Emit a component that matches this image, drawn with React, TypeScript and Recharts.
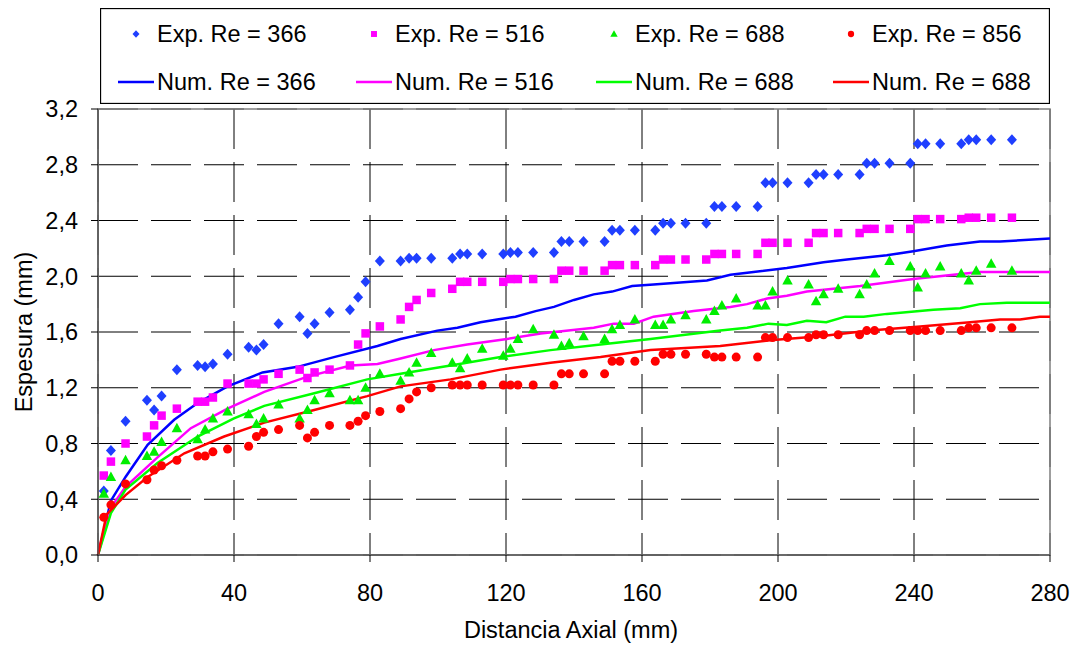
import React from 'react'
import { ComposedChart, Line, Scatter, XAxis, YAxis, CartesianGrid, ReferenceArea, Legend } from 'recharts'

// experimental stations (mm) - shared by the four Exp. series
const expX = [
    1.7, 3.8, 8.1, 14.4, 16.5, 18.7, 23.2, 29.3, 31.5, 33.8,
    38.1, 44.3, 46.6, 48.7, 53.1, 59.3, 61.6, 63.7, 68.1, 74.1,
    76.5, 78.7, 82.9, 89.0, 91.5, 93.7, 98.0, 104.2, 106.5, 108.6,
    113.0, 119.2, 121.3, 123.5, 128.0, 134.1, 136.3, 138.6, 142.8, 149.0,
    151.2, 153.5, 157.9, 163.9, 166.2, 168.5, 172.8, 178.9, 181.3, 183.5,
    187.7, 194.0, 196.3, 198.4, 202.8, 209.0, 211.2, 213.4, 217.7, 224.0,
    226.1, 228.4, 232.8, 238.9, 241.1, 243.4, 247.7, 253.9, 256.1, 258.3, 262.7, 268.8
]
const exp366 = [
    0.46, 0.75, 0.96, 1.11, 1.04, 1.14, 1.33, 1.36, 1.35, 1.37,
    1.44, 1.49, 1.47, 1.51, 1.66, 1.71, 1.59, 1.66, 1.74, 1.76,
    1.85, 1.96, 2.11, 2.11, 2.13, 2.13, 2.13, 2.13, 2.16, 2.16,
    2.16, 2.16, 2.17, 2.17, 2.17, 2.17, 2.25, 2.25, 2.25, 2.25,
    2.33, 2.33, 2.33, 2.33, 2.38, 2.38, 2.38, 2.38, 2.5, 2.5,
    2.5, 2.5, 2.67, 2.67, 2.67, 2.67, 2.73, 2.73, 2.73, 2.73,
    2.81, 2.81, 2.81, 2.81, 2.95, 2.95, 2.95, 2.95, 2.98, 2.98, 2.98, 2.98
]
const exp516 = [
    0.57, 0.67, 0.8, 0.85, 0.93, 1.0, 1.05, 1.1, 1.1, 1.13,
    1.23, 1.23, 1.23, 1.26, 1.3, 1.33, 1.27, 1.31, 1.33, 1.36,
    1.51, 1.59, 1.64, 1.69, 1.78, 1.83, 1.88, 1.91, 1.96, 1.96,
    1.96, 1.96, 1.98, 1.98, 1.98, 1.98, 2.04, 2.04, 2.04, 2.04,
    2.08, 2.08, 2.08, 2.08, 2.12, 2.12, 2.12, 2.12, 2.16, 2.16,
    2.16, 2.16, 2.24, 2.24, 2.24, 2.24, 2.31, 2.31, 2.31, 2.31,
    2.34, 2.34, 2.34, 2.34, 2.41, 2.41, 2.41, 2.41, 2.42, 2.42, 2.42, 2.42
]
const exp688 = [
    0.44, 0.56, 0.68, 0.71, 0.74, 0.81, 0.91, 0.83, 0.9, 0.98,
    1.03, 1.01, 0.94, 0.98, 1.08, 0.98, 1.04, 1.11, 1.16, 1.11,
    1.11, 1.2, 1.3, 1.25, 1.31, 1.38, 1.45, 1.38, 1.34, 1.41,
    1.48, 1.43, 1.48, 1.55, 1.62, 1.58, 1.5, 1.52, 1.57, 1.55,
    1.62, 1.65, 1.69, 1.65, 1.65, 1.69, 1.72, 1.69, 1.75, 1.79,
    1.84, 1.79, 1.79, 1.89, 1.97, 1.94, 1.82, 1.87, 1.91, 1.87,
    1.94, 2.02, 2.11, 2.07, 1.92, 2.02, 2.07, 2.02, 1.97, 2.04, 2.09, 2.04
]
const exp856 = [
    0.27, 0.36, 0.51, 0.54, 0.61, 0.64, 0.68, 0.71, 0.71, 0.74,
    0.76, 0.78, 0.85, 0.88, 0.9, 0.93, 0.84, 0.88, 0.93, 0.93,
    0.96, 1.0, 1.03, 1.05, 1.12, 1.17, 1.2, 1.22, 1.22, 1.22,
    1.22, 1.22, 1.22, 1.22, 1.22, 1.22, 1.3, 1.3, 1.3, 1.3,
    1.39, 1.39, 1.39, 1.39, 1.44, 1.44, 1.44, 1.44, 1.42, 1.42,
    1.42, 1.42, 1.56, 1.56, 1.56, 1.56, 1.58, 1.58, 1.58, 1.58,
    1.61, 1.61, 1.61, 1.61, 1.61, 1.61, 1.61, 1.61, 1.63, 1.63, 1.63, 1.63
]

// numerical curves
const num366X = [0, 3.8, 8.1, 14.6, 22.4, 29.3, 38.1, 48.4, 58.7, 69.4, 82.2, 89, 99.8, 105.7, 112.5, 117.4, 122.8, 128.7, 134.1, 140, 145.8, 151.2, 157.1, 163.4, 179.1, 186, 192.8, 202.6, 213.4, 220.3, 232, 239.8, 249.6, 259.4, 265.3, 280]
const num366 = [0, 0.39, 0.56, 0.79, 0.97, 1.09, 1.21, 1.31, 1.35, 1.42, 1.5, 1.55, 1.61, 1.63, 1.67, 1.69, 1.71, 1.75, 1.78, 1.83, 1.87, 1.89, 1.93, 1.94, 1.97, 2.01, 2.03, 2.06, 2.1, 2.12, 2.15, 2.18, 2.22, 2.25, 2.25, 2.27]
const num516X = [0, 3.8, 8.1, 17.5, 27.3, 38.1, 48.9, 61.6, 74.3, 82.2, 89, 98.8, 108.6, 120.3, 130.2, 145.8, 151.7, 157.6, 163.4, 175.2, 186, 190.9, 196.8, 202.6, 208.5, 224.2, 239.8, 251.6, 259.4, 280]
const num516 = [0, 0.34, 0.49, 0.7, 0.91, 1.05, 1.17, 1.28, 1.36, 1.37, 1.41, 1.47, 1.51, 1.55, 1.59, 1.63, 1.66, 1.66, 1.71, 1.75, 1.78, 1.8, 1.84, 1.86, 1.89, 1.93, 1.98, 2.01, 2.03, 2.03]
const num688X = [0, 3.8, 8.1, 17.5, 29.3, 40, 48.9, 63.6, 79.2, 89, 103.7, 118.4, 133.1, 147.8, 162.5, 183, 190.9, 197.2, 202.6, 208.5, 214.2, 219.8, 225.2, 232, 245.7, 253.6, 259.4, 267.3, 280]
const num688 = [0, 0.3, 0.47, 0.66, 0.85, 0.98, 1.07, 1.16, 1.26, 1.3, 1.36, 1.42, 1.47, 1.51, 1.55, 1.61, 1.63, 1.66, 1.65, 1.68, 1.67, 1.71, 1.71, 1.73, 1.76, 1.77, 1.8, 1.81, 1.81]
const num856X = [0, 2.5, 8.1, 14.6, 25.4, 37.1, 48.9, 63.6, 79.2, 89, 103.7, 118.4, 133.1, 147.8, 162.5, 183, 197.7, 212.4, 227.1, 241.8, 256.5, 265.3, 271.2, 277, 280]
const num856 = [0, 0.29, 0.43, 0.56, 0.73, 0.85, 0.95, 1.04, 1.14, 1.21, 1.26, 1.33, 1.38, 1.42, 1.47, 1.5, 1.54, 1.57, 1.61, 1.64, 1.67, 1.69, 1.69, 1.71, 1.71]

const xTicks = [0, 40, 80, 120, 160, 200, 240, 280]
const yTicks = [0, 0.4, 0.8, 1.2, 1.6, 2.0, 2.4, 2.8, 3.2]

const expLabels = ['Exp. Re = 366', 'Exp. Re = 516', 'Exp. Re = 688', 'Exp. Re = 856']
const numLabels = ['Num. Re = 366', 'Num. Re = 516', 'Num. Re = 688', 'Num. Re = 688']
const colors = ['#0000ff', '#ff00ff', '#00ff00', '#ff0000']
const markerColors = ['#1f3fff', '#ff00ff', '#00ee00', '#ff0000']
const markerKinds = ['diamond', 'square', 'triangle', 'circle']

const FONT = '"Liberation Sans", Arial, sans-serif'
const FS = 23.5

const toPoints = (xs: number[], ys: number[]) => xs.map((x, i) => ({ x, y: ys[i] }))

const Marker = ({ kind, cx, cy, fill, s }: { kind: string; cx: number; cy: number; fill: string; s: number }) => {
    if (kind === 'diamond')
        return <path d={`M${cx},${cy - s * 1.1} L${cx + s},${cy} L${cx},${cy + s * 1.1} L${cx - s},${cy} Z`} fill={fill} />
    if (kind === 'square') return <rect x={cx - s * 0.85} y={cy - s * 0.85} width={s * 1.7} height={s * 1.7} fill={fill} />
    if (kind === 'triangle')
        return <path d={`M${cx},${cy - s * 1.1} L${cx + s * 1.05},${cy + s * 0.8} L${cx - s * 1.05},${cy + s * 0.8} Z`} fill={fill} />
    return <circle cx={cx} cy={cy} r={s * 0.9} fill={fill} />
}

const shapeFor = (i: number) => (props: any) =>
    <Marker kind={markerKinds[i]} cx={props.cx} cy={props.cy} fill={markerColors[i]} s={5} />

const colText = [57, 295, 535, 772]

const renderLegend = () => (
    <svg width={950} height={96} style={{ display: 'block' }}>
        <rect x={0.5} y={0.5} width={949} height={95} fill="#fff" stroke="#000" strokeWidth={1.3} />
        {expLabels.map((t, i) => (
            <g key={t}>
                <Marker kind={markerKinds[i]} cx={colText[i] - 21} cy={26} fill={markerColors[i]} s={3.5} />
                <text x={colText[i]} y={26} dominantBaseline="central" fontSize={FS} fontFamily={FONT} fill="#000">{t}</text>
            </g>
        ))}
        {numLabels.map((t, i) => (
            <g key={t + i}>
                <line x1={colText[i] - 39} x2={colText[i] - 3} y1={74} y2={74} stroke={colors[i]} strokeWidth={2.5} />
                <text x={colText[i]} y={74} dominantBaseline="central" fontSize={FS} fontFamily={FONT} fill="#000">{t}</text>
            </g>
        ))}
    </svg>
)

const expData = [exp366, exp516, exp688, exp856].map(ys => toPoints(expX, ys))
const numData = [toPoints(num366X, num366), toPoints(num516X, num516), toPoints(num688X, num688), toPoints(num856X, num856)]

export default function App() {
    const tick = { fill: '#000', fontSize: FS, fontFamily: FONT }
    return (
        <div style={{ position: 'absolute', left: 0, top: 0, background: '#fff' }}>
            <ComposedChart width={1077} height={646} margin={{ top: 109, right: 27, bottom: 31, left: 0 }}>
                <CartesianGrid stroke="#000" strokeDasharray="40 13" />
                <XAxis
                    type="number"
                    dataKey="x"
                    domain={[0, 280]}
                    ticks={xTicks}
                    height={60}
                    tick={tick}
                    tickSize={7}
                    tickMargin={22}
                    axisLine={{ stroke: '#595959', strokeWidth: 1.5 }}
                    tickLine={{ stroke: '#000' }}
                    label={() => (
                        <text x={571} y={638} textAnchor="middle" fontSize={FS} fontFamily={FONT} fill="#000">
                            Distancia Axial (mm)
                        </text>
                    )}
                />
                <YAxis
                    type="number"
                    dataKey="y"
                    domain={[0, 3.2]}
                    ticks={yTicks}
                    width={98}
                    tick={tick}
                    tickSize={7}
                    tickMargin={13}
                    tickFormatter={(v: number) => v.toFixed(1).replace('.', ',')}
                    axisLine={{ stroke: '#595959', strokeWidth: 1.5 }}
                    tickLine={{ stroke: '#000' }}
                    label={() => (
                        <text x={24} y={332} transform="rotate(-90 24 332)" textAnchor="middle" dominantBaseline="central" fontSize={FS} fontFamily={FONT} fill="#000">
                            Espesura (mm)
                        </text>
                    )}
                />
                <ReferenceArea x1={0} x2={280} y1={0} y2={3.2} fill="none" stroke="#808080" strokeWidth={1.5} />
                <Legend
                    verticalAlign="middle"
                    layout="horizontal"
                    content={renderLegend}
                    wrapperStyle={{ left: 100, top: 8, width: 950, height: 96 }}
                />
                {numData.map((d, i) => (
                    <Line
                        key={'num' + i}
                        data={d}
                        dataKey="y"
                        type="linear"
                        stroke={colors[i]}
                        strokeWidth={2.5}
                        dot={false}
                        activeDot={false}
                        isAnimationActive={false}
                    />
                ))}
                {expData.map((d, i) => (
                    <Scatter key={'exp' + i} data={d} dataKey="y" shape={shapeFor(i)} isAnimationActive={false} />
                ))}
            </ComposedChart>
        </div>
    )
}
